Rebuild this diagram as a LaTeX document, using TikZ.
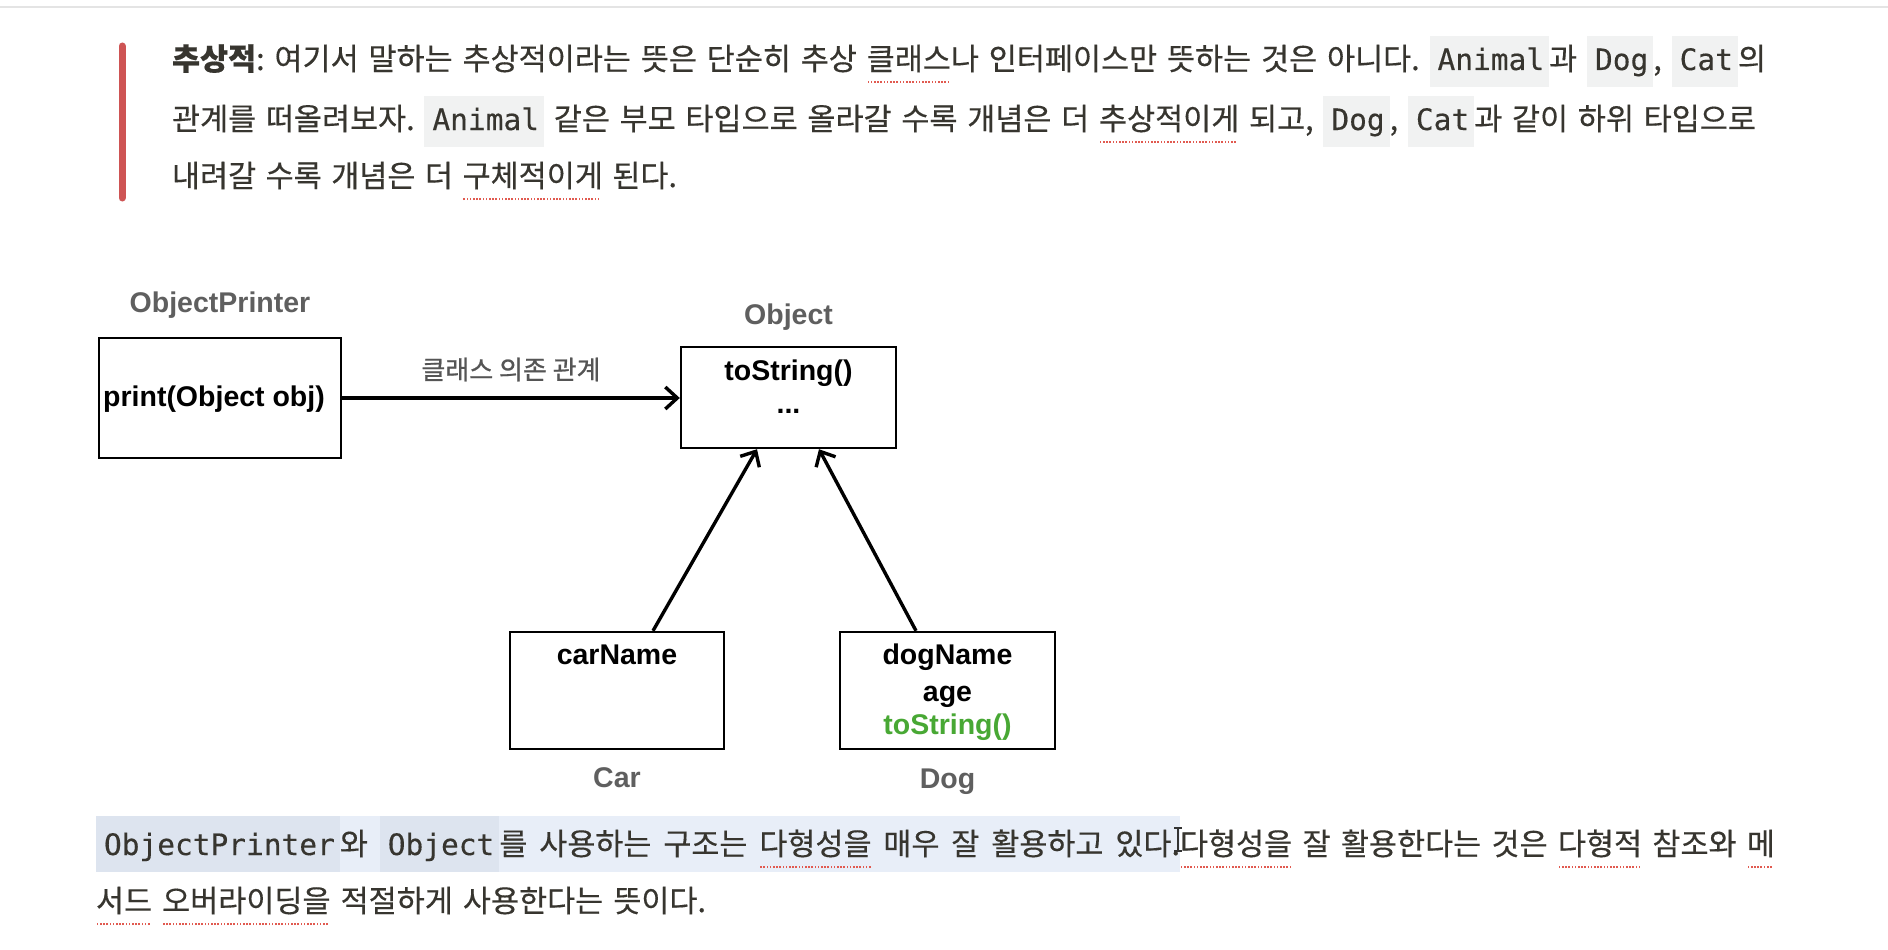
\documentclass[tikz,border=0pt]{standalone}
\usepackage{fontspec}
\usetikzlibrary{arrows.meta}
\setmainfont{Noto Sans CJK KR}
\newfontfamily\krfont[FakeBold=0.4]{Noto Sans CJK KR}
\newfontfamily\krlabel[FakeBold=0.8]{Noto Sans CJK KR}
\newfontfamily\codefont[FakeBold=0.3]{DejaVu Sans Mono}
\newfontfamily\diafont{Liberation Sans}
\definecolor{bodytext}{RGB}{55,53,47}
\definecolor{codebg}{RGB}{241,242,242}
\definecolor{selbg}{RGB}{232,238,248}
\definecolor{codesel}{RGB}{221,228,239}
\definecolor{spellred}{RGB}{225,90,80}
\definecolor{quotebar}{RGB}{206,84,84}
\definecolor{labelgray}{RGB}{95,95,95}
\definecolor{deptext}{RGB}{85,85,85}
\definecolor{ovgreen}{RGB}{72,168,52}
\definecolor{topline}{RGB}{228,228,228}
% inline code span (top paragraph)
\newcommand\cd[1]{{\setlength\fboxsep{0pt}\colorbox{codebg}{\rule[-17pt]{0pt}{51pt}\hspace{8pt}{\codefont\fontsize{29.5}{30}\selectfont #1}\hspace{5pt}}}}
% inline code span inside the selection
\newcommand\cds[1]{{\setlength\fboxsep{0pt}\colorbox{codesel}{\rule[-17pt]{0pt}{56pt}\hspace{8pt}{\codefont\fontsize{29.5}{30}\selectfont #1}\hspace{5pt}}}}
% selection highlight of fixed width
\newcommand\selhl[2]{{\setlength\fboxsep{0pt}\colorbox{selbg}{\rule[-17pt]{0pt}{56pt}\hbox to #1{#2}}}}
% red dotted spell-check underline
\newcommand\spl[1]{\setbox0\hbox{#1}\rlap{\raisebox{-13pt}{\hbox to\wd0{\color{spellred}\leaders\hbox to 3.2pt{\hss\rule{1.7pt}{1.7pt}\hss}\hfill}}}\box0\relax}
% a line of body text spread to a given width
\newcommand\bline[2]{\hbox to #1{\frenchspacing\spaceskip=13pt plus 12pt minus 8pt #2}}
\tikzset{
  bodyline/.style={anchor=base west, inner sep=0pt, outer sep=0pt, text=bodytext,
    font=\krfont\fontsize{30.5}{32}\selectfont},
  cls/.style={draw=black, line width=2.4pt, inner sep=0pt, fill=white},
  dtext/.style={anchor=base, inner sep=0pt, text=black,
    font=\diafont\bfseries\fontsize{28.5}{30}\selectfont},
  dlabel/.style={anchor=base, inner sep=0pt, text=labelgray,
    font=\diafont\bfseries\fontsize{28.5}{30}\selectfont},
  deplabel/.style={inner sep=0pt, text=deptext, font=\krlabel\fontsize{26}{28}\selectfont},
  dep/.style={line width=3.4pt, -{Straight Barb[length=12pt,width=22pt,line width=3.4pt]}},
}
\begin{document}
\begin{tikzpicture}[x=1pt,y=-1pt]
\fill[white] (0,0) rectangle (1888,950);
\useasboundingbox (0,0) rectangle (1888,950);
\draw[topline, line width=2pt] (0,7) -- (1888,7);
% quote bar
\draw[quotebar, line width=7pt, line cap=round] (122,46) -- (122,198);
% top paragraph
\node[bodyline] (l1) at (172,70) {\bline{1594pt}{\textbf{추상적}: 여기서 말하는 추상적이라는 뜻은 단순히 추상 \spl{클래스}나 인터페이스만 뜻하는 것은 아니다. \cd{Animal}과 \cd{Dog}, \cd{Cat}의}};
\node[bodyline] (l2) at (172,130) {\bline{1584pt}{관계를 떠올려보자. \cd{Animal} 같은 부모 타입으로 올라갈 수록 개념은 더 \spl{추상적이게} 되고, \cd{Dog}, \cd{Cat}과 같이 하위 타입으로}};
\node[bodyline] (l3) at (172,187) {\bline{505pt}{내려갈 수록 개념은 더 \spl{구체적이게} 된다.}};
% diagram boxes
\node[cls, minimum width=242pt, minimum height=120pt] (op) at (220,398) {};
\node[cls, minimum width=215pt, minimum height=101pt] (obj) at (788.5,397.5) {};
\node[cls, minimum width=214pt, minimum height=117pt] (car) at (617,690.5) {};
\node[cls, minimum width=215pt, minimum height=117pt] (dog) at (947.5,690.5) {};
% class names
\node[dlabel] (opname) at ([yshift=24pt]op.north) {ObjectPrinter};
\node[dlabel] (objname) at ([yshift=21pt]obj.north) {Object};
\node[dlabel] (carname) at ([yshift=-37pt]car.south) {Car};
\node[dlabel] (dogname) at ([yshift=-38pt]dog.south) {Dog};
% members
\node[dtext] (opm) at ([xshift=-6pt,yshift=-8pt]op.center) {print(Object obj)};
\node[dtext] (objm1) at ([yshift=-35pt]obj.north) {toString()};
\node[dtext] (objm2) at ([yshift=-68pt]obj.north) {...};
\node[dtext] (carm) at ([yshift=-34pt]car.north) {carName};
\node[dtext] (dogm1) at ([yshift=-34pt]dog.north) {dogName};
\node[dtext] (dogm2) at ([yshift=-70.5pt]dog.north) {age};
\node[dtext, text=ovgreen] (dogm3) at ([yshift=-103.5pt]dog.north) {toString()};
% connectors
\draw[dep] (op.east) -- node[deplabel, above=15pt] (deplbl) {클래스 의존 관계} (obj.west |- op.east);
\draw[dep] ([xshift=36pt]car.north) -- ([xshift=-31.5pt]obj.south);
\draw[dep] ([xshift=-31.5pt]dog.north) -- ([xshift=30.5pt]obj.south);
% bottom paragraph
\node[bodyline] (b1) at (96,855) {\bline{1679pt}{\selhl{1084pt}{\cds{ObjectPrinter}와 \cds{Object}를 사용하는 구조는 \spl{다형성을} 매우 잘 활용하고 있다.\hfil}\spl{다형성을} 잘 활용한다는 것은 \spl{다형적} 참조와 \spl{메}}};
\node[bodyline] (b2) at (96,912) {\bline{610pt}{\spl{서드} \spl{오버라이딩을} 적절하게 사용한다는 뜻이다.}};
% text cursor (I-beam)
\draw[black!80, line width=1.3pt] (1178,829) -- (1178,850) (1174,828) -- (1182,828) (1174,851) -- (1182,851);
\end{tikzpicture}
\end{document}
